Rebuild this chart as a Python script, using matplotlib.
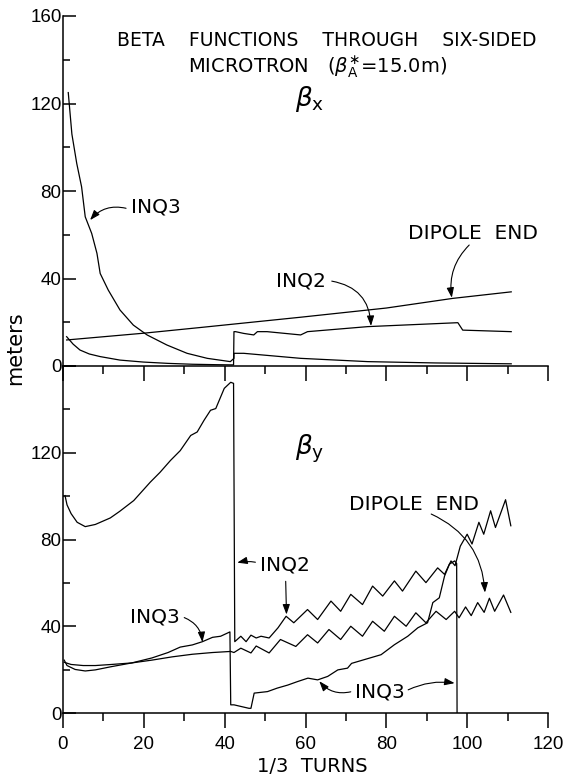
import numpy as np
import matplotlib
matplotlib.use('Agg')
from matplotlib import pyplot as plt
from matplotlib.ticker import MultipleLocator

plt.rcParams['font.family'] = ['DejaVu Sans']
plt.rcParams['mathtext.fontset'] = 'dejavusans'

# ---- top panel (beta x) ----
bx_inq3_x = [1.3, 2.2, 3.4, 4.6, 5.5, 7.1, 8.4, 9.2, 11.2, 14.1, 17.4, 20.8, 25.7, 30.7, 35.7, 41.4, 42.3,
             42.3, 42.7, 44.7, 58.8, 75.4, 92.0, 110.9]
bx_inq3_y = [125, 106, 92.6, 81.9, 68.2, 60.6, 51.5, 42.3, 34.7, 25.6, 18.7, 14.2, 9.6, 5.8, 3.5, 2.0, 3.5,
             5.8, 5.8, 5.8, 3.5, 2.0, 1.4, 1.0]

bx_inq2_x = [0.9, 2.5, 4.2, 6.5, 9.2, 14.1, 19.9, 26, 32, 38, 42.2,
             42.3, 42.7, 44.7, 47.2, 48.1, 50.5, 58.8, 60.5, 75.4, 97.7, 98.9, 110.9]
bx_inq2_y = [13.4, 10.0, 7.3, 5.5, 4.3, 2.7, 1.8, 1.2, 0.8, 0.6, 0.5,
             15.7, 15.7, 14.9, 14.2, 15.7, 15.7, 14.2, 15.7, 18.0, 19.8, 16.4, 15.7]

bx_dip_x = [0.9, 20, 34, 58.8, 80, 96.4, 110.9]
bx_dip_y = [11.9, 15.0, 17.6, 22.3, 26.5, 30.9, 33.9]

# ---- bottom panel (beta y) ----
by_inq2_x = [0.5, 1.0, 2.0, 3.5, 5.5, 8.0, 11.7, 14.0, 17.5, 21.6, 24.0, 26.6, 29.0, 31.6, 33.2, 34.9,
             36.5, 37.8, 39.9, 41.5, 42.2,
             42.5, 44.0, 45.3, 46.5, 47.8, 49.0, 51.0, 53.2, 55.2, 57.1, 60.5, 63.0, 66.3, 68.7, 71.2,
             74.1, 76.6, 79.1, 82.0, 84.0, 87.3, 89.8, 92.7, 94.4, 96.0, 97.0,
             98.3, 100.0, 101.2, 102.9, 104.1, 105.8, 107.0, 109.5, 110.8]
by_inq2_y = [100.3, 96, 92, 88, 86, 87, 90, 93, 98, 106.5, 111, 116.5, 121, 128, 129.6, 135,
             139.6, 140.4, 149.7, 152.5, 152,
             33, 35.5, 33, 36, 34.7, 35.5, 34.7, 39.4, 44.7, 41.7, 47.8, 43.2, 51.7, 47, 54.8,
             50.1, 58.6, 54, 61, 56.3, 65.5, 60.2, 67, 64, 70.2, 68,
             77, 82.5, 78, 88, 82.5, 93.3, 85.6, 98.4, 86.4]

by_inq3_x = [0.3, 1.0, 3.0, 5.5, 8.0, 12.0, 17.0, 22.0, 26.0, 29.0, 32.0, 34.5, 37.0, 39.0, 41.3,
             41.5, 42.3, 46.0, 46.5, 47.3, 50.6, 53.0, 55.6, 58.0, 60.6, 63.0, 65.5, 68.0, 70.4,
             71.4, 74.5, 78.7, 82.0, 85.3, 87.8, 90.2, 91.5, 93.1, 94.4, 95.6, 96.9, 97.4, 97.5]
by_inq3_y = [24.5, 22.0, 20.2, 19.5, 20.0, 21.5, 23.2, 25.5, 28.0, 30.5, 31.5, 33.0, 35.0, 35.5, 37.5,
             3.9, 3.9, 2.3, 2.3, 9.3, 10.0, 11.6, 13.0, 14.6, 16.2, 15.4, 17.0, 20.0, 20.8,
             23.0, 24.7, 27.0, 31.6, 35.5, 39.4, 41.7, 51.0, 53.2, 63.2, 68.7, 70.2, 69.0, 0.0]

by_dip_x = [0.3, 2, 5, 8, 12, 17, 22, 27, 32, 37, 41.5,
            42.3, 44, 46.5, 47.8, 51, 53.8, 57.6, 60.5, 63, 65.8, 68.7, 71.2, 74.1, 76.6, 79.5,
            82, 84.9, 87.3, 89.8, 92.3, 94.8, 96.9, 98, 99.6, 101, 102.6, 104.2, 105.5, 106.8, 109, 110.8]
by_dip_y = [23.5, 22.5, 22, 22, 22.5, 23.2, 24.5, 26, 27.2, 28, 28.5,
            28, 30, 27.8, 31, 27.8, 34, 30.8, 36.2, 32.4, 38.6, 34, 40.1, 35.5, 42.4, 37.8,
            44.7, 40.1, 46.3, 41.7, 47, 43.2, 47, 44, 49, 45, 51, 46.5, 53, 47, 54.5, 46.5]

yticks_major = [0, 40, 80, 120, 160]

fig = plt.figure(figsize=(5.64, 7.79), dpi=100)
W, H = 564.0, 779.0
x0, x1 = 63, 548
ax1 = fig.add_axes([x0 / W, 1 - 366 / H, (x1 - x0) / W, 350 / H])
ax2 = fig.add_axes([x0 / W, 1 - 713.3 / H, (x1 - x0) / W, 347.3 / H])

lw = 0.9
ax1.plot(bx_inq3_x, bx_inq3_y, color='black', lw=lw)
ax1.plot(bx_inq2_x, bx_inq2_y, color='black', lw=lw)
ax1.plot(bx_dip_x, bx_dip_y, color='black', lw=lw)

ax2.plot(by_inq2_x, by_inq2_y, color='black', lw=lw)
ax2.plot(by_inq3_x, by_inq3_y, color='black', lw=lw)
ax2.plot(by_dip_x, by_dip_y, color='black', lw=lw)

for ax in (ax1, ax2):
    ax.set_xlim(0, 120)
    ax.set_ylim(0, 160)
    ax.patch.set_visible(False)
    for s in ('top', 'right'):
        ax.spines[s].set_visible(False)
    for s in ('left', 'bottom'):
        ax.spines[s].set_linewidth(1.1)
    ax.xaxis.set_major_locator(MultipleLocator(20))
    ax.xaxis.set_minor_locator(MultipleLocator(10))
    ax.yaxis.set_minor_locator(MultipleLocator(20))
    ax.tick_params(axis='x', which='major', direction='out', length=11, width=1.1, labelsize=13.5, pad=5)
    ax.tick_params(axis='x', which='minor', direction='out', length=6, width=1.1)
    ax.tick_params(axis='y', which='major', direction='in', length=9.5, width=1.1, labelsize=13.5, pad=1)
    ax.tick_params(axis='y', which='minor', direction='in', length=5, width=1.1)
    for lab in ax.get_xticklabels() + ax.get_yticklabels():
        lab.set_family('Liberation Sans')

ax1.set_yticks(yticks_major)
ax1.tick_params(axis='x', labelbottom=False)
ax2.set_yticks(yticks_major)
ax2.set_yticklabels(['0', '40', '80', '120', ''])
ax2.set_xticks([0, 20, 40, 60, 80, 100, 120])
for ax in (ax1, ax2):
    for lab in ax.get_xticklabels() + ax.get_yticklabels():
        lab.set_family('Liberation Sans')

# titles and axis labels
fig.text(327 / W, 1 - 40 / H, 'BETA    FUNCTIONS    THROUGH    SIX-SIDED', ha='center', va='center',
         fontsize=13.5)
fig.text(318 / W, 1 - 68 / H, r'MICROTRON   ($\beta_{\mathsf{A}}^{\ast}$=15.0m)', ha='center', va='center',
         fontsize=14)
fig.text(15 / W, 1 - 348 / H, 'meters', rotation=90, ha='center', va='center', fontsize=15)
fig.text(312 / W, 1 - 767 / H, '1/3  TURNS', ha='center', va='center', fontsize=14)

ax1.text(61, 122, r'$\beta_{\mathsf{x}}$', fontsize=19, ha='center', va='center')
ax2.text(61, 122, r'$\beta_{\mathsf{y}}$', fontsize=19, ha='center', va='center')

def label(ax, txt, xy):
    ax.text(xy[0], xy[1], txt, ha='center', va='center', fontsize=14.5)

def arrow(ax, xy, start, rad):
    ax.annotate('', xy=xy, xytext=start,
                arrowprops=dict(arrowstyle='-|>,head_length=0.5,head_width=0.18', color='black', lw=0.8,
                                mutation_scale=12, shrinkA=0, shrinkB=0,
                                connectionstyle='arc3,rad=%s' % rad))

label(ax1, 'INQ3', (23, 72.6))
arrow(ax1, (6.7, 66.7), (15.6, 72.1), 0.3)
label(ax1, 'INQ2', (58.8, 39))
arrow(ax1, (76.2, 18.3), (66.5, 38.8), -0.4)
label(ax1, 'DIPOLE  END', (101.4, 60.7))
arrow(ax1, (96.2, 31.2), (100.5, 55.3), 0.25)

label(ax2, 'INQ2', (55, 68.2))
arrow(ax2, (43.1, 69.4), (47.6, 69.6), 0.1)
arrow(ax2, (55.3, 45.5), (55.1, 60.8), 0.0)
label(ax2, 'INQ3', (22.8, 44.4))
arrow(ax2, (34.5, 32.8), (30.0, 44.1), -0.3)
label(ax2, 'DIPOLE  END', (86.8, 96))
arrow(ax2, (104.4, 55.6), (91.1, 91.8), -0.3)
label(ax2, 'INQ3', (78.3, 10))
arrow(ax2, (63.4, 14.8), (71.2, 9.9), -0.3)
arrow(ax2, (96.9, 13.9), (85.4, 10.8), -0.15)

fig.savefig('out.png', dpi=100)
